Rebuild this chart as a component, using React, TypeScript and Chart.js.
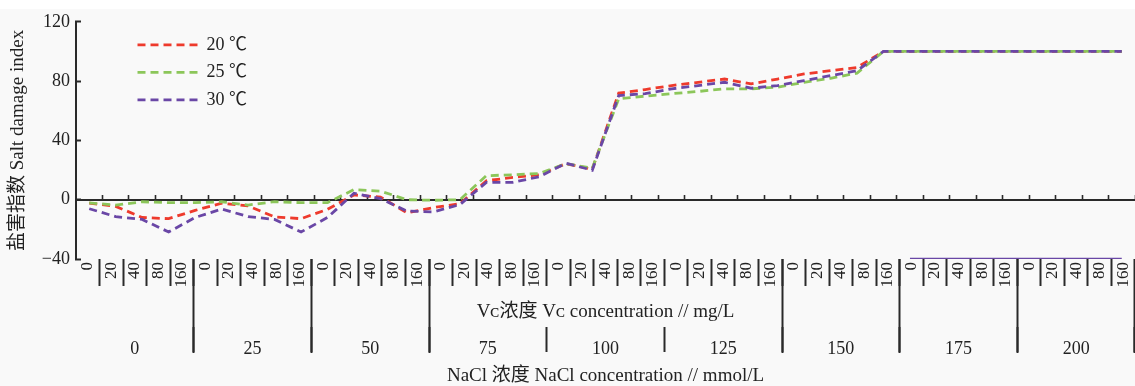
import React, { useEffect, useRef } from 'react';
import { Chart, registerables } from 'chart.js';

Chart.register(...registerables);

// ---- data ----
// 40 plotted points (hidden category axis of the data)
const pointIds: string[] = Array.from({ length: 40 }, (_, i) => String(i + 1));

const series20 = [
  -2.3, -4.5, -12, -12.8, -7.2, -2.4, -4.2, -11.6, -12.8, -6.5,
  3.2, 1.8, -8.8, -5.3, -2.7, 12.8, 15, 16.8, 24.3, 20.6,
  71.9, 74.3, 77, 79.2, 81.4, 78.1, 81.4, 84.8, 87, 89.2,
  100, 100, 100, 100, 100, 100, 100, 100, 100, 100,
];
const series25 = [
  -2.2, -3.6, -1.4, -2, -2, -1.4, -3.6, -1.3, -2, -2,
  6.8, 5.8, 0, -0.4, 0, 16.2, 16.8, 17.7, 24.3, 21.2,
  68.1, 69.9, 71.5, 73, 74.8, 74.8, 75.9, 79.2, 81.9, 85.4,
  100, 100, 100, 100, 100, 100, 100, 100, 100, 100,
];
const series30 = [
  -6.1, -11.4, -13.3, -21.8, -12, -6.3, -11.4, -13.3, -21.8, -12,
  4.4, 0.7, -7.7, -8.2, -3.3, 11.7, 11.7, 15.5, 24.6, 19.9,
  70.3, 71.5, 74.8, 77, 79.2, 75.2, 77, 80.3, 83.7, 87,
  100, 100, 100, 100, 100, 100, 100, 100, 100, 100,
];
// solid purple stroke lying on the -40 baseline at the right end
const baselineStroke: (number | null)[] = [
  null, null, null, null, null, null, null, null, null, null,
  null, null, null, null, null, null, null, null, null, null,
  null, null, null, null, null, null, null, null, null, null,
  null, -40, -40, -40, -40, -40, -40, -40, -40, -40,
];

const seriesNames = ['20 ℃', '25 ℃', '30 ℃'];
const vcLevels = ['0', '20', '40', '80', '160'];
const naclLevels = ['0', '25', '50', '75', '100', '125', '150', '175', '200'];
const vcTickLabels = naclLevels.flatMap(() => vcLevels);

const yMin = -40;
const yMax = 120;
const yStep = 40;

const yTitle = '盐害指数 Salt damage index';
const vcTitle = 'Vᴄ浓度 Vᴄ concentration // mg/L';
const naclTitle = 'NaCl 浓度 NaCl concentration // mmol/L';

// ---- styles ----
const FAMILY = "'Liberation Serif', 'Noto Sans CJK SC', serif";
const TEXT = '#222222';
const AXIS = '#2a2a2a';
const RED = '#ee3a2c';
const GREEN = '#8cc65a';
const PURPLE = '#6a47a6';
const DASH = [8, 5];
const LINE_W = 2.8;

const legendOffset = {
  id: 'legendOffset',
  afterLayout(chart: any) {
    const l = chart.legend;
    const ca = chart.chartArea;
    if (l && ca) {
      const w = l.width;
      const h = l.height;
      l.left = ca.left + 52;
      l.right = l.left + w;
      l.top = ca.top + 4.5;
      l.bottom = l.top + h;
    }
  },
};

export default function App() {
  const ref = useRef<HTMLCanvasElement>(null);

  useEffect(() => {
    const canvas = ref.current;
    if (!canvas) return;
    Chart.defaults.font.family = FAMILY;
    Chart.defaults.color = TEXT;

    const dashed = (label: string, data: number[], color: string, order: number) => ({
      label,
      data,
      borderColor: color,
      backgroundColor: color,
      borderWidth: LINE_W,
      borderDash: DASH,
      pointRadius: 0,
      pointHoverRadius: 0,
      pointStyle: 'line',
      tension: 0,
      fill: false,
      order,
      xAxisID: 'x',
      yAxisID: 'y',
    });

    const defaultLabels = (Chart.defaults as any).plugins.legend.labels.generateLabels;

    const chart = new Chart(canvas, {
      type: 'line',
      data: {
        labels: pointIds,
        datasets: [
          dashed(seriesNames[0], series20, RED, 2),
          dashed(seriesNames[1], series25, GREEN, 1),
          dashed(seriesNames[2], series30, PURPLE, 0),
          {
            label: 'baseline',
            data: baselineStroke,
            borderColor: PURPLE,
            backgroundColor: PURPLE,
            borderWidth: 2.5,
            pointRadius: 0,
            tension: 0,
            fill: false,
            spanGaps: false,
            order: 3,
            xAxisID: 'x',
            yAxisID: 'y',
          } as any,
        ],
      },
      options: {
        responsive: false,
        animation: false,
        events: [],
        layout: { padding: { top: 18, left: 0, right: 0, bottom: 0 } },
        scales: {
          x: {
            axis: 'x',
            type: 'category',
            offset: true,
            position: { y: 0 } as any,
            ticks: { display: false },
            grid: {
              offset: true,
              drawOnChartArea: false,
              drawTicks: true,
              tickLength: -6,
              tickWidth: 1.6,
              tickColor: (c: any) => (c.index === 0 ? 'transparent' : AXIS),
            },
            border: { display: true, color: AXIS, width: 2 },
          } as any,
          xl: {
            axis: 'x',
            type: 'category',
            labels: vcTickLabels,
            offset: true,
            position: { y: yMin } as any,
            ticks: {
              autoSkip: false,
              minRotation: 90,
              maxRotation: 90,
              padding: -24,
              color: TEXT,
              font: { family: FAMILY, size: 17 },
            },
            grid: {
              offset: true,
              drawOnChartArea: false,
              drawTicks: true,
              tickLength: 27,
              tickWidth: 2,
              tickColor: (c: any) => (c.index === 0 ? 'transparent' : AXIS),
            },
            border: { display: false },
          } as any,
          xg: {
            axis: 'x',
            type: 'category',
            labels: naclLevels,
            offset: true,
            position: { y: yMin } as any,
            ticks: { display: false },
            grid: {
              offset: true,
              drawOnChartArea: false,
              drawTicks: true,
              tickLength: 94,
              tickWidth: 2,
              // boundaries 4 and 5 sit under the Vc title text, so only their ends are drawn
              tickColor: (c: any) =>
                c.index === 0 || c.index === 4 || c.index === 5 ? 'transparent' : AXIS,
            },
            border: { display: false },
          } as any,
          xg2: {
            axis: 'x',
            type: 'category',
            labels: naclLevels,
            offset: true,
            position: { y: -86 } as any,
            ticks: {
              autoSkip: false,
              maxRotation: 0,
              minRotation: 0,
              padding: -13.5,
              color: TEXT,
              font: { family: FAMILY, size: 18 },
            },
            grid: {
              offset: true,
              drawOnChartArea: false,
              drawTicks: true,
              tickLength: 25,
              tickWidth: 2,
              tickColor: (c: any) => (c.index === 0 ? 'transparent' : AXIS),
            },
            border: { display: false },
          } as any,
          y: {
            type: 'linear',
            position: 'left',
            min: yMin,
            max: yMax,
            ticks: {
              stepSize: yStep,
              padding: 11,
              color: TEXT,
              font: { family: FAMILY, size: 18 },
              callback: (v: any) => (Number(v) < 0 ? '−' + Math.abs(Number(v)) : String(v)),
            },
            grid: {
              drawOnChartArea: false,
              drawTicks: true,
              tickLength: -5,
              tickWidth: 2,
              tickColor: AXIS,
            },
            border: { display: true, color: AXIS, width: 2 },
            title: {
              display: true,
              text: yTitle,
              color: TEXT,
              font: { family: FAMILY, size: 19 },
              padding: { top: 7, bottom: 0 },
            },
            afterFit: (s: any) => {
              s.width = 76;
            },
          } as any,
        },
        plugins: {
          legend: {
            display: true,
            position: 'chartArea' as any,
            align: 'start',
            labels: {
              usePointStyle: true,
              pointStyle: 'line',
              pointStyleWidth: 60,
              boxWidth: 60,
              boxHeight: 8,
              padding: 9.5,
              color: TEXT,
              font: { family: FAMILY, size: 18 },
              filter: (item: any) => item.datasetIndex < 3,
              sort: (a: any, b: any) => a.datasetIndex - b.datasetIndex,
              generateLabels: (ch: any) => {
                const items = defaultLabels(ch);
                items.forEach((it: any) => {
                  const ds = ch.data.datasets[it.datasetIndex];
                  it.lineDash = ds.borderDash || [];
                  it.lineWidth = ds.borderWidth;
                  it.strokeStyle = ds.borderColor;
                  it.fillStyle = ds.borderColor;
                  it.pointStyle = 'line';
                });
                return items;
              },
            },
          },
          subtitle: {
            display: true,
            position: 'bottom',
            fullSize: false,
            text: vcTitle,
            color: TEXT,
            font: { family: FAMILY, size: 19, lineHeight: 1, weight: 'normal' },
            padding: { top: 43.5, bottom: 0 },
          },
          title: {
            display: true,
            position: 'bottom',
            fullSize: false,
            text: naclTitle,
            color: TEXT,
            font: { family: FAMILY, size: 19, lineHeight: 1, weight: 'normal' },
            padding: { top: 45.5, bottom: 0 },
          },
          tooltip: { enabled: false },
        },
      } as any,
      plugins: [legendOffset],
    });

    return () => chart.destroy();
  }, []);

  return (
    <div
      style={{
        position: 'fixed',
        left: 0,
        top: 0,
        width: 1135,
        height: 386,
        background: 'linear-gradient(#ffffff 0px, #ffffff 9px, #f9f9f9 9px)',
      }}
    >
      <canvas ref={ref} width={1135} height={386} style={{ display: 'block' }} />
    </div>
  );
}
